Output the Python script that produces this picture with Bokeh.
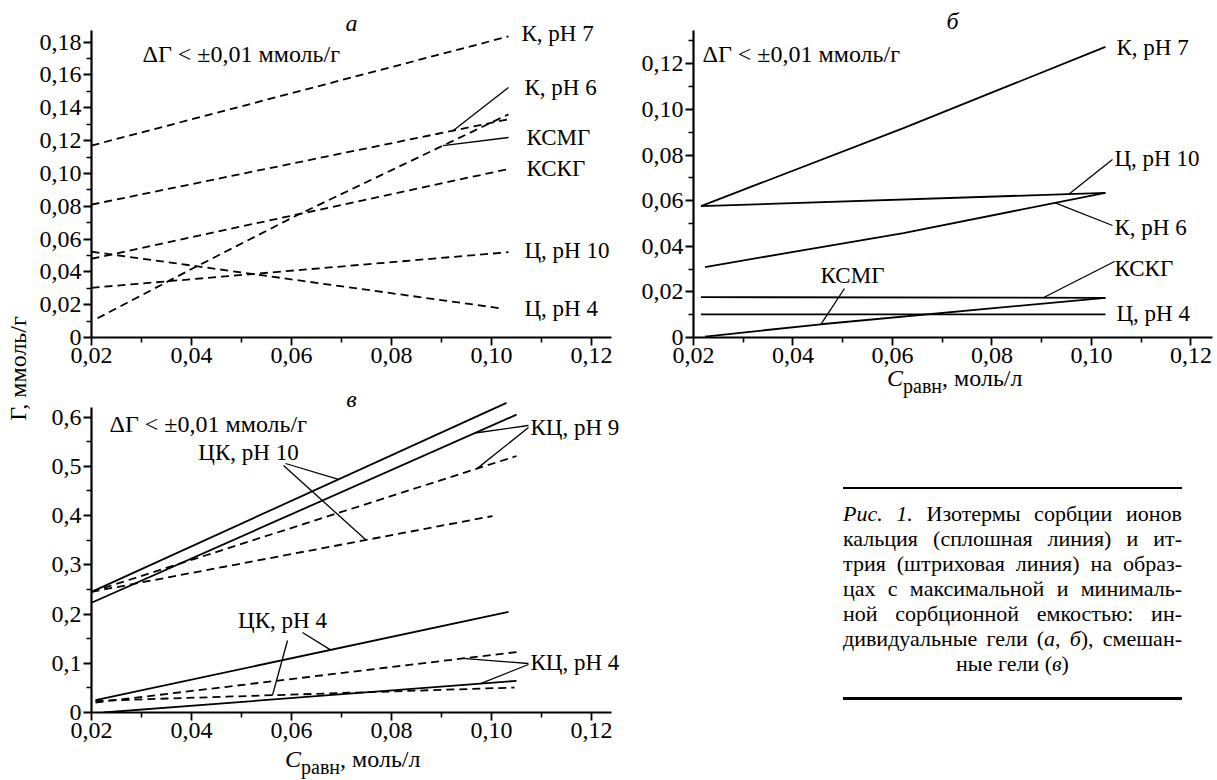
import math
import numpy as np
from bokeh.plotting import figure
from bokeh.models import Range1d, FixedTicker, CustomJSTickFormatter, Label, Div
from bokeh.layouts import row, column
from bokeh.embed import file_html
from bokeh.resources import INLINE

SERIF = "Liberation Serif, Times New Roman, DejaVu Serif, serif"
CSS_SERIF = "'Liberation Serif', 'Times New Roman', 'DejaVu Serif', serif"

# ---------------- data ----------------
# panel а : yttrium (dashed lines)
A_K7_X = [0.020, 0.1034];                    A_K7_Y = [0.117, 0.1835]
A_K6_X = [0.020, 0.1034];                    A_K6_Y = [0.081, 0.133]
A_KSMG_X = [0.0212, 0.0405, 0.0611, 0.1034]; A_KSMG_Y = [0.0117, 0.0425, 0.0745, 0.136]
A_KSKG_X = [0.020, 0.1034];                  A_KSKG_Y = [0.048, 0.1027]
A_C10_X = [0.020, 0.1034];                   A_C10_Y = [0.0303, 0.052]
A_C4_X = [0.020, 0.1018];                    A_C4_Y = [0.0523, 0.0178]

# panel б : calcium (solid lines)
B_K7_X = [0.0215, 0.0622, 0.1028];   B_K7_Y = [0.0576, 0.0918, 0.1274]
B_C10_X = [0.0215, 0.1028];          B_C10_Y = [0.0576, 0.0634]
B_K6_X = [0.0223, 0.0622, 0.1028];   B_K6_Y = [0.0309, 0.0458, 0.0634]
B_KSKG_X = [0.0215, 0.1028];         B_KSKG_Y = [0.0177, 0.0174]
B_C4_X = [0.0215, 0.1028];           B_C4_Y = [0.0101, 0.0101]
B_KSMG_X = [0.0223, 0.0456, 0.1028]; B_KSMG_Y = [0.0004, 0.0058, 0.0174]

# panel в : mixed gels, calcium solid / yttrium dashed
C_CK10_CA_X = [0.020, 0.103];   C_CK10_CA_Y = [0.245, 0.629]
C_CK10_Y_X = [0.020, 0.1002];   C_CK10_Y_Y = [0.245, 0.399]
C_KC9_CA_X = [0.020, 0.105];    C_KC9_CA_Y = [0.223, 0.605]
C_KC9_Y_X = [0.020, 0.105];     C_KC9_Y_Y = [0.245, 0.521]
C_CK4_CA_X = [0.0208, 0.1034];  C_CK4_CA_Y = [0.0252, 0.2044]
C_CK4_Y_X = [0.0208, 0.1046];   C_CK4_Y_Y = [0.0237, 0.0507]
C_KC4_CA_X = [0.0224, 0.105];   C_KC4_CA_Y = [0.0, 0.0643]
C_KC4_Y_X = [0.0208, 0.1058];   C_KC4_Y_Y = [0.0203, 0.1238]

X_TICKS = [0.02, 0.04, 0.06, 0.08, 0.10, 0.12]
X_MINOR = [0.03, 0.05, 0.07, 0.09, 0.11]
A_YTICKS = [0.0, 0.02, 0.04, 0.06, 0.08, 0.10, 0.12, 0.14, 0.16, 0.18]
A_YMINOR = [0.01, 0.03, 0.05, 0.07, 0.09, 0.11, 0.13, 0.15, 0.17]
B_YTICKS = [0.0, 0.02, 0.04, 0.06, 0.08, 0.10, 0.12]
B_YMINOR = [0.01, 0.03, 0.05, 0.07, 0.09, 0.11, 0.13]
C_YTICKS = [0.0, 0.1, 0.2, 0.3, 0.4, 0.5, 0.6]
C_YMINOR = [0.05, 0.15, 0.25, 0.35, 0.45, 0.55]

DG_TEXT = "ΔΓ < ±0,01 ммоль/г"
Y_TITLE = "Г, ммоль/г"
X_TITLE = ("C", "равн", ", моль/л")

CAPTION_LINES = [
    "_Рис. 1._ Изотермы сорбции ионов",
    "кальция (сплошная линия) и ит-",
    "трия (штриховая линия) на образ-",
    "цах с максимальной и минималь-",
    "ной сорбционной емкостью: ин-",
    "дивидуальные гели (_а_, _б_), смешан-",
    "ные гели (_в_)",
]

# ---------------- layout geometry (page pixels) ----------------
H = 780
YLAB_W = 30
BOTTOM_B = 38
GEOM = {
    "a": dict(fig=(30, 0, 595, 375), left=91, right=625, top=0, bottom=337,
              x=(0.02, 0.1268), y=(0.0, 0.2054), xb=(0.02, 0.124), yb=(0.0, 0.187)),
    "b": dict(fig=(625, 0, 592, 375), left=693, right=1217, top=0, bottom=337,
              x=(0.02, 0.12533), y=(0.0, 0.14775), xb=(0.02, 0.1243), yb=(0.0, 0.1348)),
    "c": dict(fig=(30, 375, 595, 375), left=91, right=625, top=375, bottom=712,
              x=(0.02, 0.1268), y=(0.0, 0.6845), xb=(0.02, 0.124), yb=(0.0, 0.619)),
}


def fx(g, px):
    x0, x1 = g["x"]
    return x0 + (px - g["left"]) * (x1 - x0) / (g["right"] - g["left"])


def fy(g, py):
    y0, y1 = g["y"]
    return y0 + (g["bottom"] - py) * (y1 - y0) / (g["bottom"] - g["top"])


def fmt(d):
    return ('if (Math.abs(tick) < 1e-9) { return "0"; } '
            'return tick.toFixed(%d).replace(".", ",");' % d)


def make_panel(g, yticks, yminor, ydec):
    fxp, fyp, fw, fh = g["fig"]
    p = figure(width=fw, height=fh, x_range=Range1d(*g["x"]), y_range=Range1d(*g["y"]),
               output_backend="svg", toolbar_location=None, title=None,
               min_border_left=g["left"] - fxp, min_border_right=fxp + fw - g["right"],
               min_border_top=g["top"] - fyp, min_border_bottom=fyp + fh - g["bottom"])
    p.xgrid.visible = False
    p.ygrid.visible = False
    p.outline_line_color = None
    p.background_fill_color = "white"
    p.border_fill_color = "white"
    p.xaxis.ticker = FixedTicker(ticks=X_TICKS, minor_ticks=X_MINOR)
    p.yaxis.ticker = FixedTicker(ticks=yticks, minor_ticks=yminor)
    p.xaxis.formatter = CustomJSTickFormatter(code=fmt(2))
    p.yaxis.formatter = CustomJSTickFormatter(code=fmt(ydec))
    p.xaxis.bounds = g["xb"]
    p.yaxis.bounds = g["yb"]
    for ax in (p.xaxis, p.yaxis):
        ax.axis_line_width = 2.2
        ax.axis_line_color = "black"
        ax.major_tick_line_color = "black"
        ax.minor_tick_line_color = "black"
        ax.major_tick_line_width = 1.8
        ax.minor_tick_line_width = 1.6
        ax.major_tick_in = 0
        ax.major_tick_out = 8
        ax.minor_tick_in = 0
        ax.minor_tick_out = 5
        ax.major_label_text_font = SERIF
        ax.major_label_text_font_size = "24px"
        ax.major_label_text_color = "black"
        ax.major_label_standoff = 2
    return p


def put(p, g, px, py, text, size="23px", align="left", style="normal"):
    p.add_layout(Label(x=fx(g, px), y=fy(g, py), text=text, text_font=SERIF,
                       text_font_size=size, text_align=align, text_baseline="middle",
                       text_font_style=style, text_color="black"))


def series(p, xs, ys, dashed):
    p.line(xs, ys, line_color="black", line_width=1.8,
           line_dash="8 5" if dashed else "solid")


def leaders(p, g, items):
    x0, y0, x1, y1 = [], [], [], []
    for (px, py, xt, sx, sy) in items:
        x0.append(fx(g, px)); y0.append(fy(g, py))
        x1.append(xt); y1.append(float(np.interp(xt, sx, sy)))
    p.segment(x0=x0, y0=y0, x1=x1, y1=y1, line_color="black", line_width=1.3)


# ---------------- panel а ----------------
ga = GEOM["a"]
pa = make_panel(ga, A_YTICKS, A_YMINOR, 2)
for xs, ys in [(A_K7_X, A_K7_Y), (A_K6_X, A_K6_Y), (A_KSMG_X, A_KSMG_Y),
               (A_KSKG_X, A_KSKG_Y), (A_C10_X, A_C10_Y), (A_C4_X, A_C4_Y)]:
    series(pa, xs, ys, True)
leaders(pa, ga, [(508, 87, 0.0923, A_K6_X, A_K6_Y),
                 (508, 137, 0.0903, A_KSMG_X, A_KSMG_Y)])
for txt, px, py in [("К, рН 7", 521, 33), ("К, рН 6", 524, 87), ("КСМГ", 526, 137),
                    ("КСКГ", 526, 168), ("Ц, рН 10", 524, 250), ("Ц, рН 4", 524, 308)]:
    put(pa, ga, px, py, txt)
put(pa, ga, 351, 22, "а", size="24px", align="center", style="italic")
put(pa, ga, 142, 53, DG_TEXT, size="24px")

# ---------------- panel б ----------------
gb = GEOM["b"]
pb = make_panel(gb, B_YTICKS, B_YMINOR, 2)
for xs, ys in [(B_K7_X, B_K7_Y), (B_C10_X, B_C10_Y), (B_K6_X, B_K6_Y),
               (B_KSKG_X, B_KSKG_Y), (B_C4_X, B_C4_Y), (B_KSMG_X, B_KSMG_Y)]:
    series(pb, xs, ys, False)
leaders(pb, gb, [(1112, 159, 0.0955, B_C10_X, B_C10_Y),
                 (1112, 225, 0.0927, B_K6_X, B_K6_Y),
                 (1114, 261, 0.0903, B_KSKG_X, B_KSKG_Y),
                 (844, 288, 0.0456, B_KSMG_X, B_KSMG_Y)])
for txt, px, py in [("К, рН 7", 1116, 47), ("Ц, рН 10", 1114, 158), ("К, рН 6", 1114, 227),
                    ("КСКГ", 1114, 268), ("Ц, рН 4", 1116, 313)]:
    put(pb, gb, px, py, txt)
put(pb, gb, 852, 275, "КСМГ", align="center")
put(pb, gb, 952, 20, "б", size="24px", align="center", style="italic")
put(pb, gb, 702, 53, DG_TEXT, size="24px")

# ---------------- panel в ----------------
gc = GEOM["c"]
pc = make_panel(gc, C_YTICKS, C_YMINOR, 1)
for xs, ys, d in [(C_CK10_CA_X, C_CK10_CA_Y, False), (C_CK10_Y_X, C_CK10_Y_Y, True),
                  (C_KC9_CA_X, C_KC9_CA_Y, False), (C_KC9_Y_X, C_KC9_Y_Y, True),
                  (C_CK4_CA_X, C_CK4_CA_Y, False), (C_CK4_Y_X, C_CK4_Y_Y, True),
                  (C_KC4_CA_X, C_KC4_CA_Y, False), (C_KC4_Y_X, C_KC4_Y_Y, True)]:
    series(pc, xs, ys, d)
leaders(pc, gc, [(285, 463, 0.0694, C_CK10_CA_X, C_CK10_CA_Y),
                 (283, 465, 0.0749, C_CK10_Y_X, C_CK10_Y_Y),
                 (528, 425, 0.0967, C_KC9_CA_X, C_KC9_CA_Y),
                 (528, 427, 0.0971, C_KC9_Y_X, C_KC9_Y_Y),
                 (302, 632, 0.0678, C_CK4_CA_X, C_CK4_CA_Y),
                 (287, 640, 0.0562, C_CK4_Y_X, C_CK4_Y_Y),
                 (528, 663, 0.0943, C_KC4_Y_X, C_KC4_Y_Y),
                 (528, 664, 0.0978, C_KC4_CA_X, C_KC4_CA_Y)])
put(pc, gc, 248, 452, "ЦК, рН 10", align="center")
put(pc, gc, 530, 427, "КЦ, рН 9")
put(pc, gc, 282, 620, "ЦК, рН 4", align="center")
put(pc, gc, 530, 662, "КЦ, рН 4")
put(pc, gc, 351, 398, "в", size="24px", align="center", style="italic")
put(pc, gc, 109, 423, DG_TEXT, size="24px")

# ---------------- y axis title (shared) ----------------
yl = figure(width=YLAB_W, height=H, x_range=Range1d(0, YLAB_W), y_range=Range1d(BOTTOM_B, H),
            x_axis_type=None, y_axis_type=None, output_backend="svg",
            toolbar_location=None, title=None, min_border_left=0, min_border_right=0,
            min_border_top=0, min_border_bottom=BOTTOM_B)
yl.outline_line_color = None
yl.add_layout(Label(x=17, y=H - 368, text=Y_TITLE, angle=math.pi / 2, text_align="center",
                    text_baseline="middle", text_font=SERIF, text_font_size="24px",
                    text_color="black"))


# ---------------- x axis titles (HTML, with subscript) ----------------
def xtitle_div(width, height, left, top):
    html = ('<div style="position:relative; left:%dpx; top:%dpx; white-space:nowrap; '
            'font-family:%s; font-size:24px; line-height:24px; color:#000;">'
            '<i>%s</i><span style="font-size:20px; line-height:20px; position:relative; '
            'top:7px;">%s</span>%s</div>'
            % (left, top, CSS_SERIF, X_TITLE[0], X_TITLE[1], X_TITLE[2]))
    return Div(text=html, width=width, height=height, margin=(0, 0, 0, 0),
               styles={"overflow": "visible"})


div_b = xtitle_div(592, 29, 887 - 625, -9)
div_c = xtitle_div(595, 30, 285 - 30, -3)


# ---------------- caption (justified, as in the reference) ----------------
def italics(line):
    out, ital = "", False
    for ch in line:
        if ch == "_":
            out += "</i>" if ital else "<i>"
            ital = not ital
        else:
            out += ch
    return out


CAP_TOP = 404
CAP_L, CAP_R = 843, 1182
CAP_X = 625
CAP_FIRST, CAP_STEP = 513, 25
RULES = [(488, 2), (698, 3)]
parts = ['<div style="position:relative; width:592px; height:376px; font-family:%s; '
         'font-size:22px; color:#000;">' % CSS_SERIF]
for ry, rw in RULES:
    parts.append('<div style="position:absolute; left:%dpx; top:%dpx; width:%dpx; '
                 'height:0; border-top:%dpx solid #000;"></div>'
                 % (CAP_L - CAP_X, ry - CAP_TOP - rw // 2, CAP_R - CAP_L, rw))
for i, line in enumerate(CAPTION_LINES):
    last = i == len(CAPTION_LINES) - 1
    align = "text-align:center;" if last else "text-align:justify; text-align-last:justify;"
    parts.append('<div style="position:absolute; left:%dpx; top:%.1fpx; width:%dpx; '
                 'height:25px; line-height:25px; %s">%s</div>'
                 % (CAP_L - CAP_X, CAP_FIRST + i * CAP_STEP - CAP_TOP - 12.5, CAP_R - CAP_L,
                    align, italics(line)))
parts.append("</div>")
cap = Div(text="".join(parts), width=592, height=376, margin=(0, 0, 0, 0))

layout = row(yl, column(pa, pc, div_c), column(pb, div_b, cap))
open("out.html", "w").write(file_html(layout, INLINE))
